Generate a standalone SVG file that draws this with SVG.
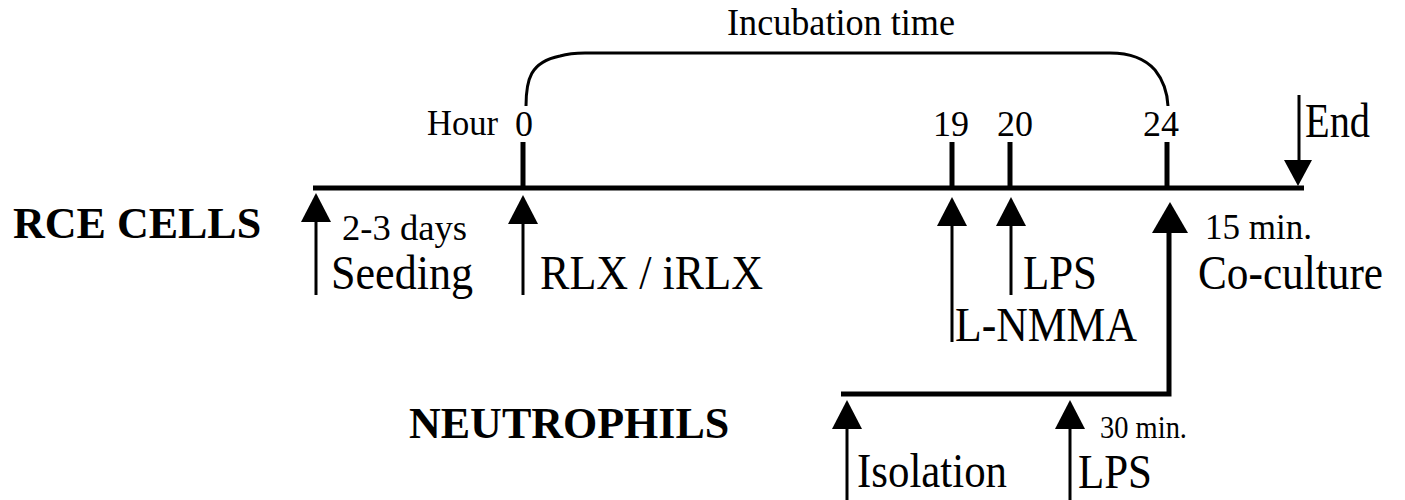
<svg xmlns="http://www.w3.org/2000/svg" width="1405" height="500" viewBox="0 0 1405 500">
<style>
.t{font-family:"Liberation Serif","Times New Roman",serif;fill:#000}
.big{font-size:48px}
.sm{font-size:36px}
.bold{font-size:44px;font-weight:bold}
.line{stroke:#000;stroke-width:5;fill:none}
.thin{stroke:#000;stroke-width:3;fill:none}
.shaft{stroke:#000;stroke-width:3}
.head{fill:#000}
</style>
<defs>
<path id="up" d="M0,0 L15,29 L-15,29 Z"/>
<path id="upBig" d="M0,0 L18,31 L-18,31 Z"/>
<path id="down" d="M0,0 L14,-26 L-14,-26 Z"/>
</defs>

<g id="connectors">
<line class="line" x1="313" y1="188" x2="1304" y2="188"/>
<path class="line" d="M1169,233 L1169,394 L841,394"/>
<path class="thin" d="M526,106 C526,80 530,62 560,56 Q570,53 585,53 L1110,53 Q1140,53 1155,70 Q1167,85 1168,106"/>
</g>

<g id="labels">
<text class="t bold" x="13" y="238">RCE CELLS</text>
<text class="t bold" x="409" y="438">NEUTROPHILS</text>
<text class="t" style="font-size:37px" x="727" y="35" textLength="228" lengthAdjust="spacingAndGlyphs">Incubation time</text>
</g>

<g id="hour-axis">
<text class="t sm" x="427" y="135" textLength="71" lengthAdjust="spacingAndGlyphs">Hour</text>
<g id="tick-0"><line class="line" x1="523" y1="142" x2="523" y2="188"/><text class="t sm" x="524" y="136" text-anchor="middle">0</text></g>
<g id="tick-19"><line class="line" x1="952" y1="142" x2="952" y2="188"/><text class="t sm" x="951" y="136" text-anchor="middle">19</text></g>
<g id="tick-20"><line class="line" x1="1010" y1="142" x2="1010" y2="188"/><text class="t sm" x="1015" y="136" text-anchor="middle">20</text></g>
<g id="tick-24"><line class="line" x1="1167" y1="142" x2="1167" y2="188"/><text class="t sm" x="1161" y="136" text-anchor="middle">24</text></g>
</g>

<g id="seeding">
<line class="shaft" x1="316" y1="215" x2="316" y2="295"/>
<use href="#up" class="head" x="316" y="193"/>
<text class="t sm" x="342" y="240" textLength="125" lengthAdjust="spacingAndGlyphs">2-3 days</text>
<text class="t big" x="331" y="289" textLength="142" lengthAdjust="spacingAndGlyphs">Seeding</text>
</g>

<g id="rlx">
<line class="shaft" x1="523" y1="215" x2="523" y2="295"/>
<use href="#up" class="head" x="523" y="195"/>
<text class="t big" x="540" y="289" textLength="223" lengthAdjust="spacingAndGlyphs">RLX / iRLX</text>
</g>

<g id="lnmma">
<line class="shaft" x1="952" y1="215" x2="952" y2="342"/>
<use href="#up" class="head" x="952" y="197"/>
<text class="t big" x="955" y="341" textLength="182" lengthAdjust="spacingAndGlyphs">L-NMMA</text>
</g>

<g id="lps-rce">
<line class="shaft" x1="1011" y1="215" x2="1011" y2="295"/>
<use href="#up" class="head" x="1011" y="197"/>
<text class="t big" x="1023" y="289" textLength="74" lengthAdjust="spacingAndGlyphs">LPS</text>
</g>

<g id="coculture">
<use href="#upBig" class="head" x="1170" y="202"/>
<text class="t sm" x="1205" y="239" textLength="107" lengthAdjust="spacingAndGlyphs">15 min.</text>
<text class="t big" x="1198" y="289" textLength="185" lengthAdjust="spacingAndGlyphs">Co-culture</text>
</g>

<g id="end">
<line class="shaft" x1="1299" y1="95" x2="1299" y2="165"/>
<use href="#down" class="head" x="1298" y="186"/>
<text class="t big" x="1305" y="137" textLength="65" lengthAdjust="spacingAndGlyphs">End</text>
</g>

<g id="isolation">
<line class="shaft" x1="847" y1="420" x2="847" y2="500"/>
<use href="#up" class="head" x="847" y="400"/>
<text class="t big" x="857" y="487" textLength="150" lengthAdjust="spacingAndGlyphs">Isolation</text>
</g>

<g id="lps-neutrophils">
<line class="shaft" x1="1070" y1="420" x2="1070" y2="500"/>
<use href="#up" class="head" x="1070" y="400"/>
<text class="t" style="font-size:31px" x="1100" y="438" textLength="87" lengthAdjust="spacingAndGlyphs">30 min.</text>
<text class="t big" x="1078" y="488" textLength="74" lengthAdjust="spacingAndGlyphs">LPS</text>
</g>
</svg>
